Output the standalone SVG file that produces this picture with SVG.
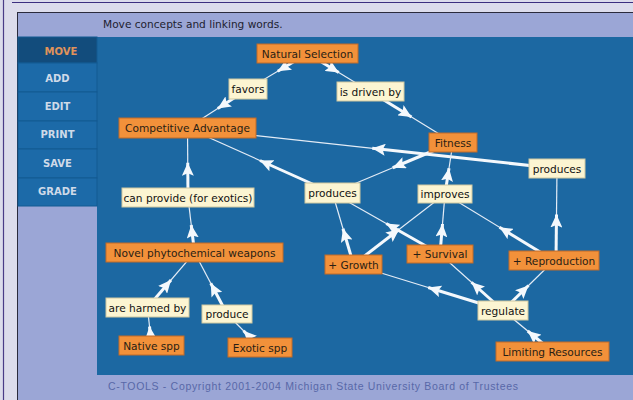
<svg xmlns="http://www.w3.org/2000/svg" width="633" height="400" viewBox="0 0 633 400">
<style>
.c rect{fill:#f2913a;stroke:#c06a28;stroke-width:1}
.l rect{fill:#fcf5d2;stroke:#cfc8a0;stroke-width:1}
.c text,.l text{font-family:"DejaVu Sans",Verdana,sans-serif;font-size:10.6px;text-anchor:middle;dominant-baseline:central}
.c text{fill:#2a1e14}
.l text{fill:#111}
.thin{stroke:#e4ecf6;stroke-width:1.2;fill:none}
.thick{stroke:#f4f8fc;stroke-width:3;fill:none;marker-end:url(#ah)}
.m text{font-family:"DejaVu Sans",Verdana,sans-serif;font-weight:bold;font-size:10px;fill:#cfdae8;text-anchor:middle;dominant-baseline:central}
.m rect{fill:#1c6aa8;stroke:#135a92;stroke-width:1}
</style>
<defs>
<marker id="ah" markerUnits="userSpaceOnUse" markerWidth="14" markerHeight="12" refX="13" refY="6" orient="auto">
<path d="M0,0 L13,6 L0,12 L2.5,6 z" fill="#f4f8fc"/>
</marker>
</defs>
<rect x="0" y="0" width="633" height="400" fill="#dcdcec"/>
<line x1="12" y1="2.5" x2="633" y2="2.5" stroke="#3c2f80" stroke-width="1.2"/>
<line x1="3.5" y1="0" x2="3.5" y2="400" stroke="#4a3c88" stroke-width="1.2"/>
<rect x="17" y="12" width="616" height="388" fill="#9ba6d6"/>
<line x1="17" y1="12.5" x2="633" y2="12.5" stroke="#2a2a3c" stroke-width="1"/>
<line x1="17.5" y1="12" x2="17.5" y2="400" stroke="#2a2a3c" stroke-width="1"/>
<text x="103" y="23.5" font-family="DejaVu Sans,Verdana,sans-serif" font-size="10.6" fill="#1e1e30" dominant-baseline="central">Move concepts and linking words.</text>
<rect x="97" y="37" width="536" height="338" fill="#1c68a2"/>
<g class="m">
<g id="menu-move"><rect x="18" y="37" width="79" height="26" style="fill:#124c7c"/><text x="61" y="51" style="fill:#e0935a">MOVE</text></g>
<g id="menu-add"><rect x="18" y="63" width="79" height="29"/><text x="57.5" y="78">ADD</text></g>
<g id="menu-edit"><rect x="18" y="92" width="79" height="29"/><text x="57.5" y="106">EDIT</text></g>
<g id="menu-print"><rect x="18" y="121" width="79" height="28"/><text x="57.5" y="134.5">PRINT</text></g>
<g id="menu-save"><rect x="18" y="149" width="79" height="29"/><text x="57.5" y="163">SAVE</text></g>
<g id="menu-grade"><rect x="18" y="178" width="79" height="28"/><text x="57.5" y="191.5">GRADE</text></g>
</g>
<g id="connectors">
<line class="thin" x1="307.5" y1="53.5" x2="248" y2="89"/><line class="thick" x1="307.5" y1="53.5" x2="277.75" y2="71.25"/>
<line class="thin" x1="248" y1="89" x2="187.5" y2="128"/><line class="thick" x1="248" y1="89" x2="217.75" y2="108.5"/>
<line class="thin" x1="307.5" y1="53.5" x2="370" y2="91.5"/><line class="thick" x1="307.5" y1="53.5" x2="338.75" y2="72.5"/>
<line class="thin" x1="370" y1="91.5" x2="453" y2="142.5"/><line class="thick" x1="370" y1="91.5" x2="411.5" y2="117"/>
<line class="thin" x1="188" y1="197.5" x2="187.5" y2="128"/><line class="thick" x1="188" y1="197.5" x2="187.75" y2="162.75"/>
<line class="thin" x1="194.5" y1="252.5" x2="188" y2="197.5"/><line class="thick" x1="194.5" y1="252.5" x2="191.25" y2="225"/>
<line class="thin" x1="147.5" y1="307.5" x2="194.5" y2="252.5"/><line class="thick" x1="147.5" y1="307.5" x2="171" y2="280"/>
<line class="thin" x1="151.5" y1="345.5" x2="147.5" y2="307.5"/><line class="thick" x1="151.5" y1="345.5" x2="149.5" y2="326.5"/>
<line class="thin" x1="227" y1="314" x2="194.5" y2="252.5"/><line class="thick" x1="227" y1="314" x2="210.75" y2="283.25"/>
<line class="thin" x1="260" y1="347.5" x2="227" y2="314"/><line class="thick" x1="260" y1="347.5" x2="243.5" y2="330.75"/>
<line class="thin" x1="332.5" y1="193" x2="187.5" y2="128"/><line class="thick" x1="332.5" y1="193" x2="260" y2="160.5"/>
<line class="thin" x1="557" y1="168.5" x2="187.5" y2="128"/><line class="thick" x1="557" y1="168.5" x2="372.25" y2="148.25"/>
<line class="thin" x1="453" y1="142.5" x2="332.5" y2="193"/><line class="thick" x1="453" y1="142.5" x2="392.75" y2="167.75"/>
<line class="thin" x1="445" y1="194" x2="453" y2="142.5"/><line class="thick" x1="445" y1="194" x2="449" y2="168.25"/>
<line class="thin" x1="353.5" y1="264.5" x2="445" y2="194"/><line class="thick" x1="353.5" y1="264.5" x2="399.25" y2="229.25"/>
<line class="thin" x1="440" y1="254" x2="445" y2="194"/><line class="thick" x1="440" y1="254" x2="442.5" y2="224"/>
<line class="thin" x1="554" y1="260.5" x2="445" y2="194"/><line class="thick" x1="554" y1="260.5" x2="499.5" y2="227.25"/>
<line class="thin" x1="440" y1="254" x2="332.5" y2="193"/><line class="thick" x1="440" y1="254" x2="386.25" y2="223.5"/>
<line class="thin" x1="353.5" y1="264.5" x2="332.5" y2="193"/><line class="thick" x1="353.5" y1="264.5" x2="343" y2="228.75"/>
<line class="thin" x1="556" y1="260.5" x2="557" y2="168.5"/><line class="thick" x1="556" y1="260.5" x2="556.5" y2="214.5"/>
<line class="thin" x1="503" y1="310.5" x2="353.5" y2="264.5"/><line class="thick" x1="503" y1="310.5" x2="428.25" y2="287.5"/>
<line class="thin" x1="503" y1="310.5" x2="440" y2="254"/><line class="thick" x1="503" y1="310.5" x2="471.5" y2="282.25"/>
<line class="thin" x1="503" y1="310.5" x2="554" y2="260.5"/><line class="thick" x1="503" y1="310.5" x2="528.5" y2="285.5"/>
<line class="thin" x1="552.5" y1="351.5" x2="503" y2="310.5"/><line class="thick" x1="552.5" y1="351.5" x2="527.75" y2="331"/>
</g>
<g id="natural-selection" class="c"><rect x="257" y="44" width="101" height="19"/><text x="307.5" y="53.5">Natural Selection</text></g>
<g id="favors" class="l"><rect x="229" y="79" width="38" height="20"/><text x="248" y="89">favors</text></g>
<g id="is-driven-by" class="l"><rect x="337" y="82" width="67" height="19"/><text x="370.5" y="91.5">is driven by</text></g>
<g id="competitive-advantage" class="c"><rect x="119" y="118" width="137" height="20"/><text x="187.5" y="128">Competitive Advantage</text></g>
<g id="fitness" class="c"><rect x="429" y="133" width="48" height="19"/><text x="453" y="142.5">Fitness</text></g>
<g id="produces-right" class="l"><rect x="529" y="159" width="56" height="19"/><text x="557" y="168.5">produces</text></g>
<g id="produces-mid" class="l"><rect x="305" y="183" width="55" height="20"/><text x="332.5" y="193">produces</text></g>
<g id="improves" class="l"><rect x="418" y="185" width="54" height="18"/><text x="445" y="194">improves</text></g>
<g id="can-provide" class="l"><rect x="122" y="188" width="132" height="19"/><text x="188" y="197.5">can provide (for exotics)</text></g>
<g id="novel-weapons" class="c"><rect x="106" y="243" width="177" height="19"/><text x="194.5" y="252.5">Novel phytochemical weapons</text></g>
<g id="growth" class="c"><rect x="325" y="255" width="57" height="19"/><text x="353.5" y="264.5">+ Growth</text></g>
<g id="survival" class="c"><rect x="407" y="245" width="66" height="18"/><text x="440" y="254">+ Survival</text></g>
<g id="reproduction" class="c"><rect x="509" y="251" width="90" height="19"/><text x="554" y="260.5">+ Reproduction</text></g>
<g id="are-harmed-by" class="l"><rect x="106" y="298" width="83" height="19"/><text x="147.5" y="307.5">are harmed by</text></g>
<g id="produce" class="l"><rect x="202" y="305" width="50" height="18"/><text x="227" y="314">produce</text></g>
<g id="regulate" class="l"><rect x="478" y="301" width="50" height="19"/><text x="503" y="310.5">regulate</text></g>
<g id="native-spp" class="c"><rect x="119" y="336" width="65" height="19"/><text x="151.5" y="345.5">Native spp</text></g>
<g id="exotic-spp" class="c"><rect x="228" y="338" width="64" height="19"/><text x="260" y="347.5">Exotic spp</text></g>
<g id="limiting-resources" class="c"><rect x="496" y="342" width="113" height="19"/><text x="552.5" y="351.5">Limiting Resources</text></g>
<text x="108" y="386" font-family="Liberation Sans,Arial,sans-serif" font-size="10.5" fill="#5868a8" textLength="410" dominant-baseline="central">C-TOOLS - Copyright 2001-2004 Michigan State University Board of Trustees</text>
</svg>
